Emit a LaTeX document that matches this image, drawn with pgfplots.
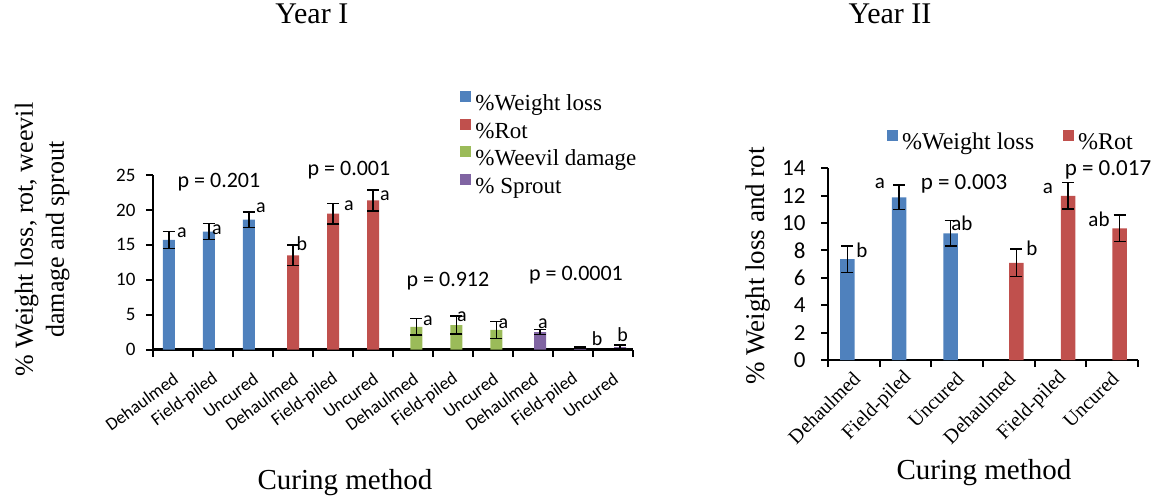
\documentclass[border=0pt]{standalone}
\usepackage{fontspec}
\setmainfont{Liberation Serif}
\newfontfamily\calibri{Carlito}
\usepackage{pgfplots}
\pgfplotsset{compat=1.18}
\definecolor{cblue}{HTML}{4F81BD}
\definecolor{cred}{HTML}{C0504D}
\definecolor{cgreen}{HTML}{9BBB59}
\definecolor{cpurple}{HTML}{8064A2}
\newcommand{\fs}[1]{\fontsize{#1}{#1}\selectfont}
\pgfplotsset{
  excelaxis/.style={
    scale only axis, anchor=south west, clip=false,
    axis x line*=bottom, axis y line*=left,
    axis line style={line width=2.5pt},
    tick align=outside,
    major tick length=7pt,
    tick style={black, line width=2pt},
    extra x tick style={major tick length=0pt},
    /pgf/number format/assume math mode=true,
    error bars/y dir=both, error bars/y explicit,
    error bars/error bar style={line width=1.5pt, black},
    error bars/error mark options={rotate=90, line width=1.5pt, black, mark size=6pt},
    legend image code/.code={\fill[##1] (0pt,3pt) rectangle (11pt,14pt);},
  }
}
\begin{document}
\begin{tikzpicture}
\useasboundingbox (0,0) rectangle (1161pt,-500pt);
% ---------- Year I ----------
\begin{axis}[excelaxis,
  at={(153pt,-349.5pt)}, width=480pt, height=174.5pt,
  xmin=-0.5, xmax=11.5, ymin=0, ymax=25,
  ytick={0,5,...,25},
  xtick={-0.5,0.5,...,11.5},
  xticklabels={,,,,,,,,,,,,},
  extra x ticks={0,...,11},
  extra x tick labels={Dehaulmed,Field-piled,Uncured,Dehaulmed,Field-piled,Uncured,Dehaulmed,Field-piled,Uncured,Dehaulmed,Field-piled,Uncured},
  x tick label style={font=\calibri\fs{18}, xshift=3pt, yshift=-27.5pt, rotate=36, anchor=east, inner sep=0pt},
  y tick label style={font=\calibri\fs{19}, xshift=-7pt},
  title={Year I}, title style={at={(axis description cs:0.331,1.888)}, anchor=center, font=\fs{30}},
  xlabel={Curing method}, xlabel style={at={(axis description cs:0.4,-0.765)}, anchor=center, font=\fs{29}},
  ylabel={\% Weight loss, rot, weevil\\damage and sprout},
  ylabel style={at={(axis description cs:-0.231,0.63)}, anchor=center, align=center, font=\fontsize{26}{31}\selectfont},
  legend style={at={(axis description cs:0.64,1.481)}, anchor=north west, draw=none, fill=none, inner sep=0pt,
    font=\fs{23}, legend cell align=left,
    nodes={inner sep=1pt, text height=16pt, text depth=5pt},
    row sep=2pt, /tikz/every odd column/.append style={column sep=3pt}},
]
\addplot[ybar, bar width=12pt, bar shift=0pt, fill=cblue, draw=none]
  coordinates {(-0.105,15.7) +- (0,1.2) (0.895,16.9) +- (0,1.15) (1.895,18.6) +- (0,1.1)};
\addlegendentry{\%Weight loss}
\addplot[ybar, bar width=12pt, bar shift=0pt, fill=cred, draw=none]
  coordinates {(3,13.5) +- (0,1.45) (4,19.45) +- (0,1.5) (5,21.35) +- (0,1.5)};
\addlegendentry{\%Rot}
\addplot[ybar, bar width=12pt, bar shift=0pt, fill=cgreen, draw=none]
  coordinates {(6.083,3.25) +- (0,1.2) (7.083,3.5) +- (0,1.3) (8.083,2.8) +- (0,1.2)};
\addlegendentry{\%Weevil damage}
\addplot[ybar, bar width=12pt, bar shift=0pt, fill=cpurple, draw=none]
  coordinates {(9.175,2.5) +- (0,0.35) (10.175,0.3) +- (0,0.05) (11.175,0.35) +- (0,0.3)};
\addlegendentry{\% Sprout}
\begin{scope}[font=\calibri\fs{22}]
\node at (axis cs:1.15,24.0) {p = 0.201};
\node at (axis cs:4.4,25.64) {p = 0.001};
\node at (axis cs:6.875,9.8) {p = 0.912};
\node at (axis cs:10.075,10.64) {p = 0.0001};
\end{scope}
\begin{scope}[font=\calibri\fs{20}, inner sep=0pt]
\node at (axis cs:0.225,16.8) {a};
\node at (axis cs:1.1,17.2) {a};
\node at (axis cs:2.2,20.3) {a};
\node at (axis cs:3.225,15.2) {b};
\node at (axis cs:4.4,20.6) {a};
\node at (axis cs:5.3,22.1) {a};
\node at (axis cs:6.375,4.07) {a};
\node at (axis cs:7.225,4.64) {a};
\node at (axis cs:8.26,3.64) {a};
\node at (axis cs:9.25,3.64) {a};
\node at (axis cs:10.6,1.5) {b};
\node at (axis cs:11.24,2.07) {b};
\end{scope}
\end{axis}
% ---------- Year II ----------
\begin{axis}[excelaxis,
  at={(828pt,-360pt)}, width=310pt, height=191.7pt,
  xmin=-0.5, xmax=5.5, ymin=0, ymax=14,
  ytick={0,2,...,14},
  xtick={-0.5,0.5,...,5.5},
  xticklabels={,,,,,,},
  extra x ticks={0,...,5},
  extra x tick labels={Dehaulmed,Field-piled,Uncured,Dehaulmed,Field-piled,Uncured},
  x tick label style={font=\fs{20}, xshift=3pt, yshift=-15pt, rotate=45, anchor=east, inner sep=0pt},
  y tick label style={font=\calibri\fs{23}, xshift=-12pt},
  title={Year II}, title style={at={(axis description cs:0.2,1.774)}, anchor=center, font=\fs{30}},
  xlabel={Curing method}, xlabel style={at={(axis description cs:0.503,-0.589)}, anchor=center, font=\fs{29}},
  ylabel={\% Weight loss and rot},
  ylabel style={at={(axis description cs:-0.226,0.49)}, anchor=center, font=\fs{27}},
  legend columns=2,
  legend style={at={(axis description cs:0.19,1.2)}, anchor=north west, draw=none, fill=none, inner sep=0pt,
    font=\fs{24}, legend cell align=left,
    nodes={inner sep=1pt, text height=16pt, text depth=5pt},
    /tikz/every odd column/.append style={column sep=3pt},
    /tikz/every even column/.append style={column sep=28pt}},
]
\addplot[ybar, bar width=14.5pt, bar shift=0pt, fill=cblue, draw=none]
  coordinates {(-0.126,7.36) +- (0,0.96) (0.874,11.88) +- (0,0.9) (1.874,9.25) +- (0,0.92)};
\addlegendentry{\%Weight loss}
\addplot[ybar, bar width=14.5pt, bar shift=0pt, fill=cred, draw=none]
  coordinates {(3.145,7.1) +- (0,1.0) (4.145,11.98) +- (0,0.97) (5.145,9.62) +- (0,0.97)};
\addlegendentry{\%Rot}
\begin{scope}[font=\calibri\fs{23}]
\node at (axis cs:2.132,12.86) {p = 0.003};
\node at (axis cs:4.919,13.88) {p = 0.017};
\end{scope}
\begin{scope}[font=\calibri\fs{21}, inner sep=0pt]
\node at (axis cs:0.158,8.03) {b};
\node at (axis cs:0.506,12.86) {a};
\node at (axis cs:2.093,10.0) {ab};
\node at (axis cs:3.448,8.18) {b};
\node at (axis cs:3.758,12.56) {a};
\node at (axis cs:4.745,10.3) {ab};
\end{scope}
\end{axis}
\end{tikzpicture}
\end{document}
